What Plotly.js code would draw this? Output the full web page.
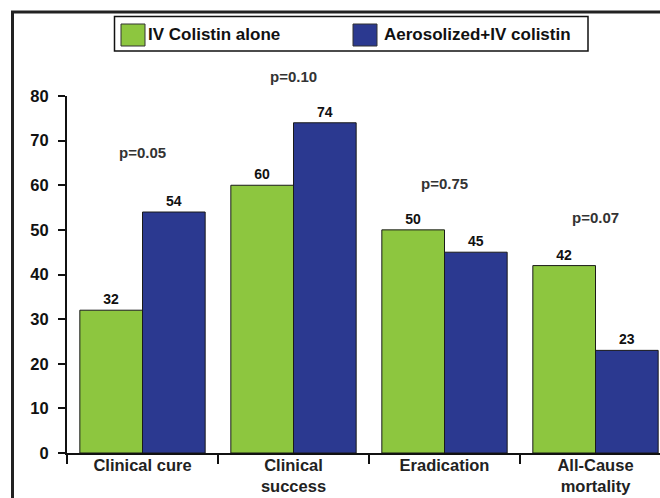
<!DOCTYPE html>
<html>
<head>
<meta charset="utf-8">
<script src="https://cdn.plot.ly/plotly-3.0.1.min.js"></script>
<style>html,body{margin:0;padding:0;background:#fff;}#chart{width:660px;height:498px;}</style>
</head>
<body>
<div id="chart"></div>
<script>
// ---- data ----
const categories = ["Clinical cure", "Clinical<br>success", "Eradication", "All-Cause<br>mortality"];
const seriesNames = ["IV Colistin alone", "Aerosolized+IV colistin"];
const ivAlone = [32, 60, 50, 42];
const aerosolIv = [54, 74, 45, 23];
const pValues = ["p=0.05", "p=0.10", "p=0.75", "p=0.07"];
const yTicks = [0, 10, 20, 30, 40, 50, 60, 70, 80];

// ---- styling / layout ----
const FONT = "Liberation Sans, Arial, Helvetica, sans-serif";
const GREEN = "#8DC63F";
const BLUE = "#2B3990";
const W = 660, H = 498;
const M = {l: 67, r: 0, t: 96, b: 45};
const PW = W - M.l - M.r, PH = H - M.t - M.b;
const px = x => (x - M.l) / PW;          // pixel -> paper x
const py = y => (H - M.b - y) / PH;      // pixel -> paper y
const YMAX = 80;

function barTrace(name, vals, color) {
  return {
    type: "bar", name: name, x: categories, y: vals,
    marker: {color: color, line: {color: "#1a1a1a", width: 1}},
    text: vals.map(String), textposition: "outside",
    textfont: {family: FONT, size: 14, color: "#111", weight: "bold"},
    cliponaxis: false, hoverinfo: "skip", showlegend: false
  };
}

const data = [barTrace(seriesNames[0], ivAlone, GREEN), barTrace(seriesNames[1], aerosolIv, BLUE)];

// p-value label heights (in axis units), placed in paper space so labels above the range still show
const pY = [67.4, 84.4, 60.5, 52.7];
const annotations = pValues.map((t, i) => ({
  x: categories[i], y: pY[i] / YMAX, xref: "x", yref: "paper", text: t, showarrow: false,
  yanchor: "middle", xanchor: "center",
  font: {family: FONT, size: 15, color: "#333", weight: "bold"}
}));
annotations.push(
  {xref: "paper", yref: "paper", x: px(146), y: py(34.5), xanchor: "left", yanchor: "middle",
   text: seriesNames[0], showarrow: false, font: {family: FONT, size: 17, color: "#111", weight: "bold"}},
  {xref: "paper", yref: "paper", x: px(382), y: py(34.5), xanchor: "left", yanchor: "middle",
   text: seriesNames[1], showarrow: false, font: {family: FONT, size: 17, color: "#111", weight: "bold"}}
);

const shapes = [
  // outer frame
  {type: "rect", xref: "paper", yref: "paper", x0: px(12.5), x1: px(700), y0: py(540), y1: py(12),
   line: {color: "#222", width: 3}, fillcolor: "rgba(0,0,0,0)", layer: "below"},
  // legend box
  {type: "rect", xref: "paper", yref: "paper", x0: px(114.5), x1: px(588), y0: py(51), y1: py(16.5),
   line: {color: "#111", width: 1.5}, fillcolor: "#fff"},
  {type: "rect", xref: "paper", yref: "paper", x0: px(121), x1: px(145), y0: py(46), y1: py(24),
   line: {color: "#333", width: 1}, fillcolor: GREEN},
  {type: "rect", xref: "paper", yref: "paper", x0: px(353), x1: px(377), y0: py(46), y1: py(24),
   line: {color: "#333", width: 1}, fillcolor: BLUE}
];

const layout = {
  width: W, height: H, margin: M,
  paper_bgcolor: "#fff", plot_bgcolor: "#fff",
  barmode: "group", bargap: 0.17, bargroupgap: 0,
  showlegend: false,
  xaxis: {
    type: "category", range: [-0.5, -0.5 + PW / 151],
    showline: true, linecolor: "#111", linewidth: 2,
    ticks: "outside", tickson: "boundaries", ticklen: 9, tickwidth: 2, tickcolor: "#111",
    ticklabelstandoff: -4,
    tickfont: {family: FONT, size: 16.5, color: "#222", weight: "bold"},
    showgrid: false, zeroline: false, fixedrange: true
  },
  yaxis: {
    range: [0, YMAX], tickvals: yTicks, ticktext: yTicks.map(String),
    showline: true, linecolor: "#111", linewidth: 2,
    ticks: "outside", ticklen: 7, tickwidth: 2, tickcolor: "#111",
    ticklabelstandoff: 6,
    tickfont: {family: FONT, size: 16.5, color: "#111", weight: "bold"},
    showgrid: false, zeroline: false, fixedrange: true
  },
  annotations: annotations, shapes: shapes
};

Plotly.newPlot("chart", data, layout, {staticPlot: true, displayModeBar: false});
</script>
</body>
</html>
